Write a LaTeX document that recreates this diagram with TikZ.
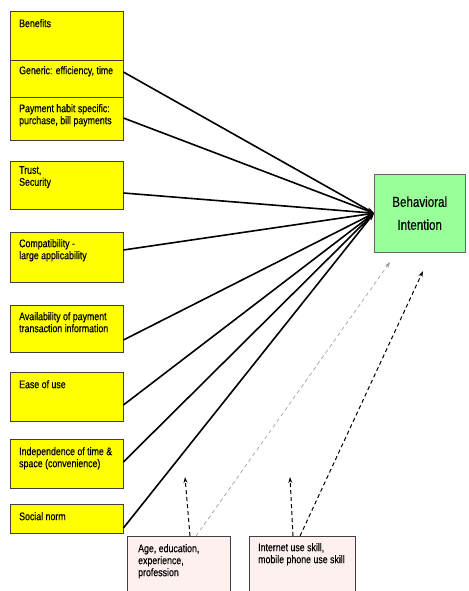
\documentclass[tikz,border=0pt]{standalone}
\usepackage{fontspec}
\setmainfont{Liberation Sans}
\newfontfamily\narrowfont[FakeStretch=0.8,FakeBold=0.4]{Liberation Sans}
\usetikzlibrary{arrows.meta}
\definecolor{boxyellow}{RGB}{255,255,0}
\definecolor{boxgreen}{RGB}{153,255,153}
\definecolor{boxpink}{RGB}{255,240,240}
\tikzset{
  ybox/.style={draw=black!75, fill=boxyellow, anchor=north west, minimum width=113pt, inner sep=0pt},
  pbox/.style={draw=black!75, fill=boxpink, anchor=north west, inner sep=0pt},
  lbl/.style={anchor=north west, inner sep=0pt, align=left, font=\narrowfont\fontsize{11}{12}\selectfont},
  link/.style={line width=1.6pt, -{Stealth[length=7pt,width=5pt]}},
  dlink/.style={line width=1pt, dash pattern=on 4pt off 3pt, -{Stealth[length=6pt,width=4pt]}}
}
\begin{document}
\begin{tikzpicture}[x=1pt,y=-1pt]
\useasboundingbox (0,0) rectangle (468,591);

% factor boxes
\node [ybox, minimum height=49pt] (ben) at (10,11) {};
\node [ybox, minimum height=37pt] (gen) at (10,60) {};
\node [ybox, minimum height=43pt] (pay) at (10,97) {};
\node [ybox, minimum height=48pt] (trust) at (10,161) {};
\node [ybox, minimum height=50pt] (compat) at (10,232) {};
\node [ybox, minimum height=47pt] (avail) at (10,305) {};
\node [ybox, minimum height=49pt] (ease) at (10,372) {};
\node [ybox, minimum height=49pt] (indep) at (10,439) {};
\node [ybox, minimum height=29pt] (social) at (10,504) {};

\node [lbl] (benT) at ([xshift=9pt,yshift=-8pt]ben.north west) {Benefits};
\node [lbl] (genT) at ([xshift=9pt,yshift=-6pt]gen.north west) {Generic: efficiency, time};
\node [lbl] (payT) at ([xshift=9pt,yshift=-7pt]pay.north west) {Payment habit specific:\\purchase, bill payments};
\node [lbl] (trustT) at ([xshift=9pt,yshift=-5pt]trust.north west) {Trust,\\Security};
\node [lbl] (compatT) at ([xshift=9pt,yshift=-7pt]compat.north west) {Compatibility -\\large applicability};
\node [lbl] (availT) at ([xshift=9pt,yshift=-7pt]avail.north west) {Availability of payment\\transaction information};
\node [lbl] (easeT) at ([xshift=9pt,yshift=-8pt]ease.north west) {Ease of use};
\node [lbl] (indepT) at ([xshift=9pt,yshift=-8pt]indep.north west) {Independence of time \&\\space (convenience)};
\node [lbl] (socialT) at ([xshift=9pt,yshift=-8pt]social.north west) {Social norm};

% target
\node [draw=black!60, fill=boxgreen, anchor=north west, minimum width=91pt, minimum height=78pt, inner sep=0pt,
  align=center, font=\narrowfont\fontsize{14.5}{23}\selectfont] (bi) at (374,174) {Behavioral\\Intention};

% moderators
\node [pbox, minimum width=103pt, minimum height=60pt] (age) at (127,536) {};
\node [pbox, minimum width=106pt, minimum height=60pt] (skill) at (249,536) {};
\node [lbl] (ageT) at ([xshift=11pt,yshift=-8pt]age.north west) {Age, education,\\experience,\\profession};
\node [lbl] (skillT) at ([xshift=9pt,yshift=-7pt]skill.north west) {Internet use skill,\\mobile phone use skill};

% direct effects
\draw [link] ([yshift=-12pt]gen.north east) -- (bi.west);
\draw [link] ([yshift=-21pt]pay.north east) -- (bi.west);
\draw [link] ([yshift=-32pt]trust.north east) -- (bi.west);
\draw [link] ([yshift=-18pt]compat.north east) -- (bi.west);
\draw [link] ([yshift=-35pt]avail.north east) -- (bi.west);
\draw [link] ([yshift=-33pt]ease.north east) -- (bi.west);
\draw [link] ([yshift=-23pt]indep.north east) -- (bi.west);
\draw [link] ([yshift=-24pt]social.north east) -- (bi.west);

% moderating effects
\coordinate (ageUp) at (185,477);
\coordinate (ageBI) at (390,262);
\coordinate (skillUp) at (290,477);
\coordinate (skillBI) at (423,271);
\draw [dlink] ([xshift=63pt]age.north west) -- (ageUp);
\draw [dlink, draw=black!40, line width=0.6pt] ([xshift=69pt]age.north west) -- (ageBI);
\draw [dlink] ([xshift=44pt]skill.north west) -- (skillUp);
\draw [dlink] ([xshift=51pt]skill.north west) -- (skillBI);

\end{tikzpicture}
\end{document}
